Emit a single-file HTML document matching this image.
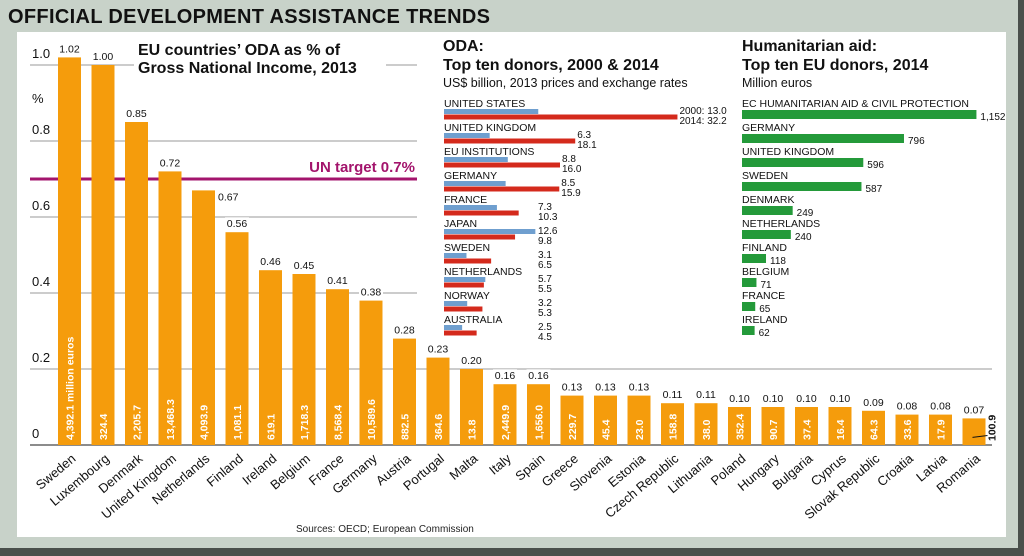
<!DOCTYPE html>
<html><head><meta charset="utf-8"><style>
html,body{margin:0;padding:0;background:#c8d2c9;}
svg{display:block;font-family:"Liberation Sans",sans-serif;}
</style></head><body>
<svg id="c" width="1024" height="556" viewBox="0 0 1024 556" xmlns="http://www.w3.org/2000/svg">
<rect x="0" y="0" width="1024" height="556" fill="#c8d2c9"/>
<rect x="0" y="548" width="1024" height="8" fill="#4a4f4b"/>
<rect x="1018" y="0" width="6" height="556" fill="#4a4f4b"/>
<text x="8" y="23" font-size="20" font-weight="bold" fill="#111" textLength="482">OFFICIAL DEVELOPMENT ASSISTANCE TRENDS</text>
<rect x="17" y="32" width="989" height="505" fill="#fff"/>
<g id="main"></g>
<g id="oda"></g>
<g id="hum"></g>
<text x="296" y="532" font-size="10" fill="#222">Sources: OECD; European Commission</text>
</svg>
<script>
const countries=["Sweden","Luxembourg","Denmark","United Kingdom","Netherlands","Finland","Ireland","Belgium","France","Germany","Austria","Portugal","Malta","Italy","Spain","Greece","Slovenia","Estonia","Czech Republic","Lithuania","Poland","Hungary","Bulgaria","Cyprus","Slovak Republic","Croatia","Latvia","Romania"];
const gniPct=[1.02,1.00,0.85,0.72,0.67,0.56,0.46,0.45,0.41,0.38,0.28,0.23,0.20,0.16,0.16,0.13,0.13,0.13,0.11,0.11,0.10,0.10,0.10,0.10,0.09,0.08,0.08,0.07];
const eurosLabels=["4,392.1 million euros","324.4","2,205.7","13,468.3","4,093.9","1,081.1","619.1","1,718.3","8,568.4","10,589.6","882.5","364.6","13.8","2,449.9","1,656.0","229.7","45.4","23.0","158.8","38.0","352.4","90.7","37.4","16.4","64.3","33.6","17.9","100.9"];
const yTicks=[0,0.2,0.4,0.6,0.8,1.0];
const yTickLabels=["0","0.2","0.4","0.6","0.8","1.0"];
const unTarget=0.7;
const odaDonors=["UNITED STATES","UNITED KINGDOM","EU INSTITUTIONS","GERMANY","FRANCE","JAPAN","SWEDEN","NETHERLANDS","NORWAY","AUSTRALIA"];
const oda2000=[13.0,6.3,8.8,8.5,7.3,12.6,3.1,5.7,3.2,2.5];
const oda2014=[32.2,18.1,16.0,15.9,10.3,9.8,6.5,5.5,5.3,4.5];
const humDonors=["EC HUMANITARIAN AID & CIVIL PROTECTION","GERMANY","UNITED KINGDOM","SWEDEN","DENMARK","NETHERLANDS","FINLAND","BELGIUM","FRANCE","IRELAND"];
const humValues=[1152,796,596,587,249,240,118,71,65,62];

const NS="http://www.w3.org/2000/svg";
function mk(tag,attrs,parent,txt){const e=document.createElementNS(NS,tag);for(const k in attrs)e.setAttribute(k,attrs[k]);if(txt!==undefined)e.textContent=txt;parent.appendChild(e);return e;}
const y=v=>445-v*380;
const xc=i=>58+i*33.5+11.5;
const main=document.getElementById('main');

yTicks.forEach((t,i)=>{
  const x2=(t===0||t===0.2)?992:417;
  const g=mk('line',{x1:30,x2:x2,y1:y(t),y2:y(t),stroke:t===0?'#666':'#999','stroke-width':t===0?1.5:1},main);
  
  
  const l=mk('text',{x:32,y:y(t)-7,'font-size':13,fill:'#111'},main,yTickLabels[i]);
  
  
});
const pct=mk('text',{x:32,y:103,'font-size':13,fill:'#111'},main,'%');


const tb=mk('rect',{x:134,y:36,width:252,height:42,fill:'#fff'},main);


const t1=mk('text',{x:138,y:55,'font-size':16,'font-weight':'bold',fill:'#111'},main,'EU countries\u2019 ODA as % of');


const t2=mk('text',{x:138,y:73,'font-size':16,'font-weight':'bold',fill:'#111'},main,'Gross National Income, 2013');


const un=mk('line',{x1:30,x2:417,y1:y(unTarget),y2:y(unTarget),stroke:'#a3146c','stroke-width':3},main);


const unl=mk('text',{x:415,y:y(unTarget)-7,'font-size':15,'font-weight':'bold',fill:'#a3146c','text-anchor':'end'},main,'UN target 0.7%');



countries.forEach((c,i)=>{
  const v=gniPct[i],x=58+i*33.5;
  const b=mk('rect',{x:x,y:y(v),width:23,height:445-y(v),fill:'#f59c0c'},main);
  
  
  let lx=xc(i),ly=y(v)-5,anchor='middle';
  if(i===4){lx=x+26;ly=y(v)+10;anchor='start';}
  const s=v.toFixed(2);
  const bg=mk('rect',{x:(anchor==='middle'?lx-12:lx-1),y:ly-10,width:24,height:12,fill:'#fff'},main);
  
  
  const vl=mk('text',{x:lx,y:ly,'font-size':10.5,fill:'#111','text-anchor':anchor},main,s);
  
  
  if(i===countries.length-1){
    const ln=mk('line',{x1:x+10,x2:x+25,y1:y(0.02),y2:y(0.025),stroke:'#111','stroke-width':1},main);
    
    
    const el=mk('text',{x:0,y:0,'font-size':10.5,'font-weight':'bold',fill:'#111',transform:`translate(${x+33},441) rotate(-90)`},main,eurosLabels[i]);
    
    
  } else {
    const el=mk('text',{x:0,y:0,'font-size':10.5,'font-weight':'bold',fill:'#fff',transform:`translate(${xc(i)+4},440) rotate(-90)`},main,eurosLabels[i]);
    
    
  }
  const cl=mk('text',{x:0,y:0,'font-size':13,fill:'#111','text-anchor':'end',transform:`translate(${xc(i)+7},460) rotate(-40)`},main,c);
  
  
});

const oda=document.getElementById('oda');
[['ODA:',51,16,'bold','oda-title'],['Top ten donors, 2000 & 2014',70,16,'bold','oda-title-line2'],['US$ billion, 2013 prices and exchange rates',87,12.5,'normal','oda-subtitle']].forEach(a=>{
  const t=mk('text',{x:443,y:a[1],'font-size':a[2],'font-weight':a[3],fill:'#111'},oda,a[0]);
  
  
});
const ox=v=>444+v*7.25;
odaDonors.forEach((d,i)=>{
  const base=107+i*24;
  const n=mk('text',{x:444,y:base,'font-size':10.5,fill:'#111'},oda,d);
  
  
  const b1=mk('rect',{x:444,y:base+2,width:ox(oda2000[i])-444,height:5,fill:'#6f9fcf'},oda);
  
  
  const b2=mk('rect',{x:444,y:base+7.5,width:ox(oda2014[i])-444,height:5,fill:'#d42a1c'},oda);
  
  
  const lx=Math.max(ox(oda2000[i]),ox(oda2014[i]),536)+2;
  const l1=mk('text',{x:lx,y:base+7,'font-size':10,fill:'#111'},oda,(i===0?'2000: ':'')+oda2000[i].toFixed(1));
  
  
  const l2=mk('text',{x:lx,y:base+17,'font-size':10,fill:'#111'},oda,(i===0?'2014: ':'')+oda2014[i].toFixed(1));
  
  
});

const hum=document.getElementById('hum');
[['Humanitarian aid:',51,16,'bold','hum-title'],['Top ten EU donors, 2014',70,16,'bold','hum-title-line2'],['Million euros',87,12.5,'normal','hum-subtitle']].forEach(a=>{
  const t=mk('text',{x:742,y:a[1],'font-size':a[2],'font-weight':a[3],fill:'#111'},hum,a[0]);
  
  
});
const hx=v=>742+v*0.2035;
humDonors.forEach((d,i)=>{
  const base=107+i*24;
  const n=mk('text',{x:742,y:base,'font-size':10.5,fill:'#111'},hum,d);
  
  
  const b=mk('rect',{x:742,y:base+3,width:hx(humValues[i])-742,height:9,fill:'#249a3a'},hum);
  
  
  const l=mk('text',{x:hx(humValues[i])+4,y:base+13,'font-size':10,fill:'#111'},hum,humValues[i].toLocaleString('en-US'));
  
  
});
</script>
</body></html>
